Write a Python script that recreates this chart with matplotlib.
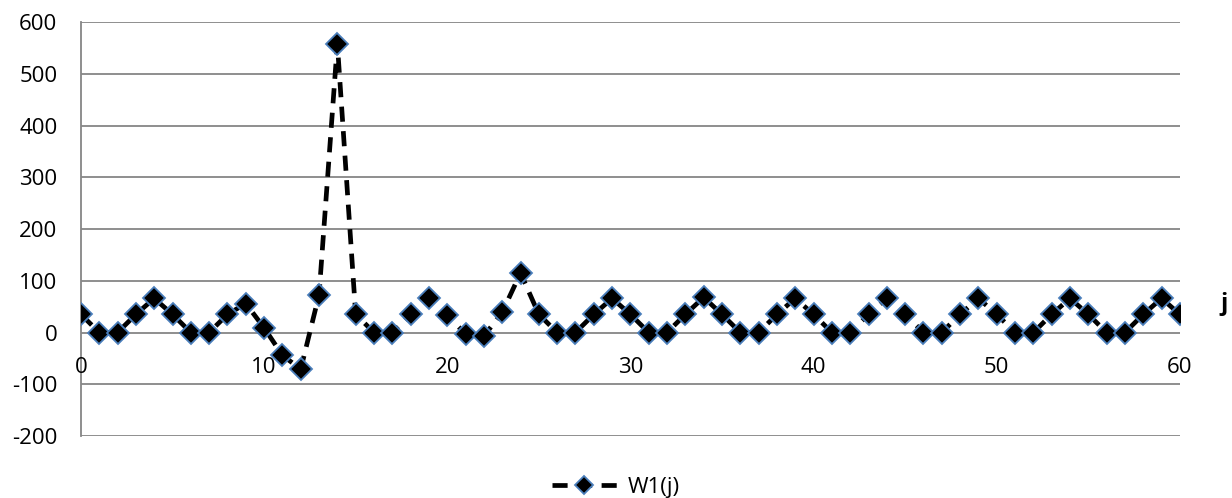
import matplotlib.pyplot as plt
import numpy as np

plt.rcParams["font.family"] = "Open Sans"
plt.rcParams["axes.unicode_minus"] = False

# data
j = np.arange(0, 61)
w1 = [35, 0, 0, 35, 66, 35, 0, 0, 35, 56,
      9, -44, -71, 73, 558, 35, 0, 0, 35, 66,
      33, -3, -7, 39, 115, 35, 0, 0, 35, 66,
      35, 0, 0, 35, 68, 35, 0, 0, 35, 66,
      35, 0, 0, 35, 66, 35, 0, 0, 35, 66,
      35, 0, 0, 35, 66, 35, 0, 0, 35, 66,
      35]
xticks = [0, 10, 20, 30, 40, 50, 60]
yticks = [-200, -100, 0, 100, 200, 300, 400, 500, 600]

grid_col = '#868686'
fs = 16

fig = plt.figure(figsize=(12.32, 4.98), dpi=100)
ax = fig.add_axes([0.0657, 0.1245, 0.892, 0.8313])

for v in yticks:
    ax.axhline(v, color=grid_col, lw=1.3, zorder=1)

ax.plot(j, w1, color='black', ls=(0, (3.2, 2)), lw=3.4, marker='D', ms=11,
        mfc='black', mec='#4a7ebb', mew=1.3, label='W1(j)', zorder=3)

ax.set_xlim(0, 60)
ax.set_ylim(-200, 600)
ax.set_yticks(yticks)
ax.set_xticks([])
ax.tick_params(axis='y', length=0, labelsize=fs, pad=17)
for s in ['top', 'right', 'bottom']:
    ax.spines[s].set_visible(False)
ax.spines['left'].set_color(grid_col)
ax.spines['left'].set_linewidth(1.3)

# x labels sit just under the zero line, like the original
for t in xticks:
    ax.annotate(str(t), xy=(t, 0), xycoords='data', xytext=(0, -25),
                textcoords='offset points', ha='center', va='center',
                fontsize=fs, clip_on=False)

fig.text(0.9935, 0.39, 'j', fontsize=17, fontweight='bold', ha='center', va='center')

fig.legend(loc='lower center', bbox_to_anchor=(0.5, -0.04), frameon=False,
           fontsize=fs, handlelength=2.9, handletextpad=0.5, markerscale=0.85)

fig.savefig('out.png', dpi=100)
